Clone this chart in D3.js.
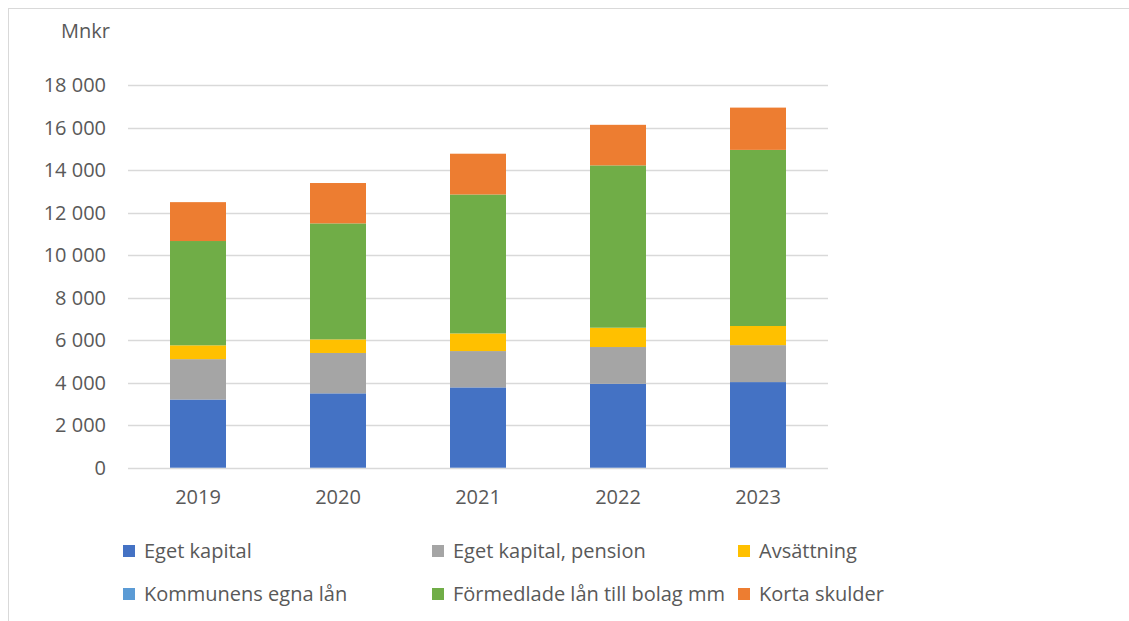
<!DOCTYPE html>
<html><head><meta charset="utf-8">
<script src="https://cdn.jsdelivr.net/npm/d3@7"></script>
<style>body{margin:0;background:#fff;} text{font-family:"Open Sans",sans-serif;fill:#595959;}</style>
</head><body>
<svg id="c" width="1129" height="621"></svg>
<script>
const years = ["2019","2020","2021","2022","2023"];
const seriesNames = ["Eget kapital","Eget kapital, pension","Avsättning","Kommunens egna lån","Förmedlade lån till bolag mm","Korta skulder"];
const egetKapital =        [3210, 3500, 3780, 3950, 4030];
const egetKapitalPension = [1900, 1900, 1710, 1730, 1740];
const avsattning =         [ 650,  640,  830,  910,  900];
const kommunensEgnaLan =   [   0,    0,    0,    0,    0];
const formedladeLan =      [4910, 5460, 6540, 7640, 8290];
const kortaSkulder =       [1830, 1900, 1920, 1910, 1990];
const colors = ["#4472C4","#A5A5A5","#FFC000","#5B9BD5","#70AD47","#ED7D31"];
const yTicks = [0,2000,4000,6000,8000,10000,12000,14000,16000,18000];

const seriesVals = [egetKapital, egetKapitalPension, avsattning, kommunensEgnaLan, formedladeLan, kortaSkulder];
const rows = years.map((y,i)=>{const o={year:y}; seriesNames.forEach((s,j)=>o[s]=seriesVals[j][i]); return o;});
const stack = d3.stack().keys(seriesNames)(rows);

const svg = d3.select("#c");
svg.append("rect").attr("x",8.5).attr("y",8.5).attr("width",1300).attr("height",800).attr("fill","none").attr("stroke","#d9d9d9");

const x = d3.scaleBand().domain(years).range([128,828]).paddingInner(0.6).paddingOuter(0.3);
const y = d3.scaleLinear().domain([0,18000]).range([467.7,85.3]);
const fmt = d3.formatLocale({decimal:",",thousands:"\u00a0",grouping:[3],currency:["","kr"]}).format(",d");

const g = svg.append("g");
g.selectAll("line.grid").data(yTicks).join("line")
  .attr("x1",128).attr("x2",828).attr("y1",d=>Math.round(y(d))+0.5).attr("y2",d=>Math.round(y(d))+0.5)
  .attr("stroke","#d9d9d9").attr("stroke-width",1.3);
g.selectAll("text.yt").data(yTicks).join("text")
  .attr("x",106).attr("y",d=>y(d)).attr("dy","0.35em").attr("text-anchor","end")
  .style("font-size","20px").text(d=>fmt(d));

stack.forEach((s,j)=>{
  g.selectAll(null).data(s).join("rect")
   .attr("x",d=>x(d.data.year)).attr("width",x.bandwidth())
   .attr("y",d=>y(d[1])).attr("height",d=>y(d[0])-y(d[1]))
   .attr("fill",colors[j]);
});

g.selectAll("text.xt").data(years).join("text")
  .attr("x",d=>x(d)+x.bandwidth()/2).attr("y",497).attr("dy","0.35em").attr("text-anchor","middle")
  .style("font-size","20px").text(d=>d);

svg.append("text").attr("x",61).attr("y",31).attr("dy","0.35em").style("font-size","20px").text("Mnkr");

const colX = [123,432,738];
const rowY = [551,594];
seriesNames.forEach((s,i)=>{
  const cx = colX[i%3], cy = rowY[Math.floor(i/3)];
  svg.append("rect").attr("x",cx).attr("y",cy-6).attr("width",12).attr("height",12).attr("fill",colors[i]);
  svg.append("text").attr("x",cx+21).attr("y",cy).attr("dy","0.35em").style("font-size","20px").text(s);
});
</script>
</body></html>
